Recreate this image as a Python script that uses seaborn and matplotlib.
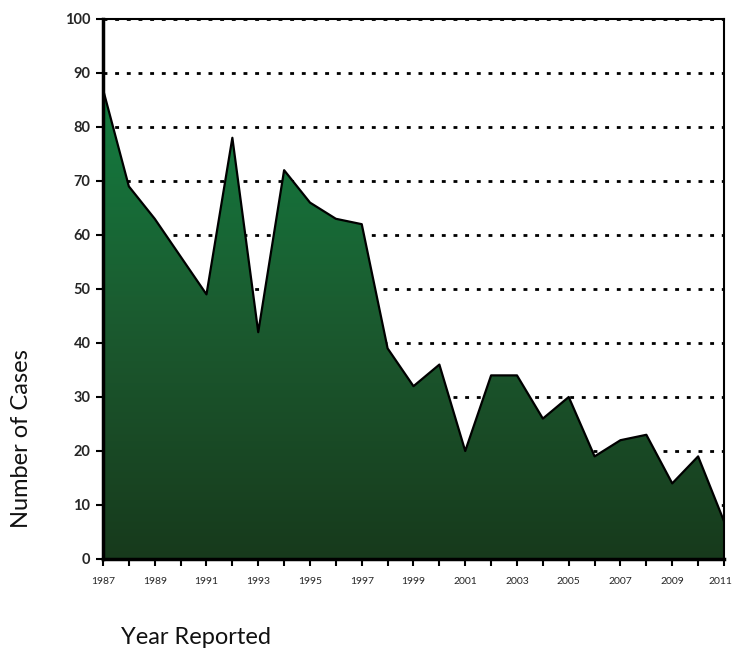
import numpy as np
import pandas as pd
import matplotlib
matplotlib.use("Agg")
import matplotlib.pyplot as plt
import matplotlib.transforms as mtransforms
import seaborn as sns
from matplotlib.colors import LinearSegmentedColormap
from matplotlib.patches import Polygon

years = list(range(1987, 2012))
cases = [87, 69, 63, 56, 49, 78, 42, 72, 66, 63, 62, 39, 32, 36, 20,
         34, 34, 26, 30, 19, 22, 23, 14, 19, 7]
y_ticks = list(range(0, 101, 10))
x_tick_labels = [str(y) for y in range(1987, 2012, 2)]

df = pd.DataFrame({"Year": years, "Cases": cases})

sns.set_theme(style="white")
plt.rcParams["font.family"] = ["Lato", "DejaVu Sans"]

fig = plt.figure(figsize=(7.33, 6.5), dpi=100)
ax = fig.add_axes([0.1405, 0.14, 0.8472, 0.8308])

# dotted gridlines behind the filled area
for v in y_ticks[1:]:
    ax.axhline(v, color="black", lw=2.0, ls=(0, (1.4, 2.8)), zorder=0.5)

# gradient fill under the series, clipped to the area polygon
verts = [(years[0], 0)] + list(zip(years, cases)) + [(years[-1], 0)]
poly = Polygon(verts, closed=True, facecolor="none", edgecolor="none")
ax.add_patch(poly)
cmap = LinearSegmentedColormap.from_list("grn", ["#173a1c", "#1b5a2f", "#137d40"])
grad = np.linspace(0, 1, 256).reshape(-1, 1)
im = ax.imshow(grad, cmap=cmap, origin="lower", aspect="auto",
               extent=[years[0], years[-1], 0, max(cases)], zorder=1)
im.set_clip_path(poly)

sns.lineplot(data=df, x="Year", y="Cases", ax=ax, color="black", lw=1.6, zorder=2)

ax.set_xlim(years[0], years[-1])
ax.set_ylim(0, 100)
ax.set_yticks(y_ticks)
ax.set_yticklabels([str(v) for v in y_ticks], fontweight="bold", fontsize=10.5)
ax.set_xticks(list(range(1987, 2012, 2)))
ax.set_xticklabels(x_tick_labels, fontsize=7.5)
ax.set_xticks(years, minor=True)
ax.tick_params(axis="x", which="both", direction="out", length=5, width=1.5,
               color="black", bottom=True, pad=8)
ax.tick_params(axis="y", direction="out", length=5, width=1.5, color="black",
               left=True, pad=4)
ax.set_xlabel("")
ax.set_ylabel("")

# keep the last year label inside the canvas
last = ax.get_xticklabels()[-1]
last.set_transform(last.get_transform() +
                   mtransforms.ScaledTranslation(-4 / 100, 0, fig.dpi_scale_trans))

for side, w in [("left", 2.5), ("bottom", 2.5), ("top", 1.5), ("right", 1.5)]:
    ax.spines[side].set_visible(True)
    ax.spines[side].set_color("black")
    ax.spines[side].set_linewidth(w)
    ax.spines[side].set_zorder(3)

fig.text(0.03, 0.325, "Number of Cases", rotation=90, ha="center", va="center",
         fontsize=17, color="#111111")
fig.text(0.268, 0.02, "Year Reported", ha="center", va="center",
         fontsize=17, color="#111111")

fig.savefig("out.png", dpi=100, facecolor="white")
